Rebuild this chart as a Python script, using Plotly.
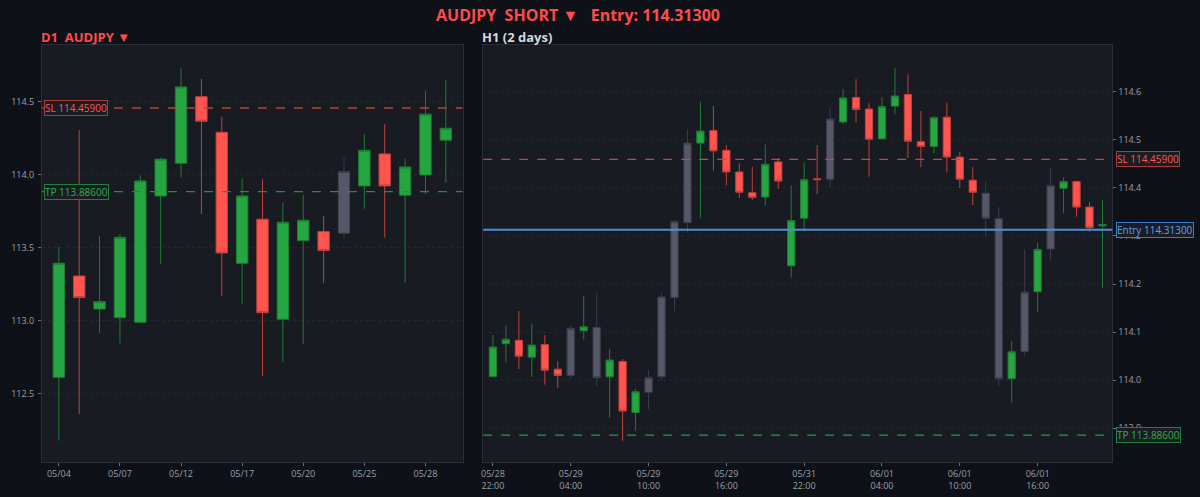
import plotly.graph_objects as go

# ---------------- D1 data ----------------
d1_dates = ["05/04", "05/05", "05/06", "05/07", "05/08", "05/11", "05/12", "05/13", "05/14", "05/17",
            "05/18", "05/19", "05/20", "05/21", "05/22", "05/25", "05/26", "05/27", "05/28", "05/29"]
d1_open = [112.614, 113.308, 113.082, 113.023, 112.991, 113.856, 114.080, 114.536, 114.292, 113.395,
           113.697, 113.012, 113.550, 113.612, 113.601, 113.925, 114.144, 113.861, 114.000, 114.238]
d1_high = [113.509, 114.308, 113.582, 113.594, 113.998, 114.118, 114.733, 114.658, 114.399, 113.977,
           113.971, 113.810, 113.863, 113.721, 114.121, 114.279, 114.347, 114.110, 114.577, 114.651]
d1_low = [112.180, 112.361, 112.918, 112.847, 112.985, 113.392, 113.984, 113.733, 113.169, 113.116,
          112.623, 112.717, 112.842, 113.258, 113.566, 113.769, 113.571, 113.262, 113.870, 113.947]
d1_close = [113.395, 113.160, 113.132, 113.573, 113.959, 114.108, 114.603, 114.368, 113.466, 113.856,
            113.057, 113.676, 113.690, 113.482, 114.023, 114.169, 113.925, 114.055, 114.416, 114.320]
d1_kind = ["up", "dn", "up", "up", "up", "up", "up", "dn", "dn", "up",
           "dn", "up", "up", "dn", "gray", "up", "dn", "up", "up", "up"]
d1_tickvals = ["05/04", "05/07", "05/12", "05/17", "05/20", "05/25", "05/28"]

# ---------------- H1 data ----------------
h1_times = ["05/28 22:00", "05/28 23:00", "05/29 00:00", "05/29 01:00", "05/29 02:00", "05/29 03:00",
            "05/29 04:00", "05/29 05:00", "05/29 06:00", "05/29 07:00", "05/29 08:00", "05/29 09:00",
            "05/29 10:00", "05/29 11:00", "05/29 12:00", "05/29 13:00", "05/29 14:00", "05/29 15:00",
            "05/29 16:00", "05/29 17:00", "05/29 18:00", "05/29 19:00", "05/29 20:00", "05/29 21:00",
            "05/31 22:00", "05/31 23:00", "06/01 00:00", "06/01 01:00", "06/01 02:00", "06/01 03:00",
            "06/01 04:00", "06/01 05:00", "06/01 06:00", "06/01 07:00", "06/01 08:00", "06/01 09:00",
            "06/01 10:00", "06/01 11:00", "06/01 12:00", "06/01 13:00", "06/01 14:00", "06/01 15:00",
            "06/01 16:00", "06/01 17:00", "06/01 18:00", "06/01 19:00", "06/01 20:00", "06/01 21:00"]
h1_open = [114.008, 114.076, 114.083, 114.048, 114.074, 114.023, 114.010, 114.103, 114.110, 114.007,
           114.039, 113.933, 113.975, 114.007, 114.172, 114.328, 114.493, 114.519, 114.478, 114.433,
           114.390, 114.381, 114.454, 114.238, 114.337, 114.419, 114.418, 114.537, 114.588, 114.564,
           114.502, 114.570, 114.594, 114.496, 114.486, 114.547, 114.464, 114.416, 114.389, 114.336,
           114.003, 114.060, 114.184, 114.273, 114.399, 114.413, 114.360, 114.321]
h1_high = [114.094, 114.115, 114.144, 114.118, 114.094, 114.039, 114.113, 114.175, 114.182, 114.065,
           114.044, 113.982, 114.021, 114.181, 114.333, 114.522, 114.579, 114.570, 114.489, 114.451,
           114.444, 114.490, 114.462, 114.405, 114.452, 114.489, 114.568, 114.606, 114.626, 114.576,
           114.588, 114.649, 114.636, 114.560, 114.549, 114.577, 114.475, 114.443, 114.414, 114.360,
           114.082, 114.272, 114.286, 114.442, 114.422, 114.415, 114.370, 114.375]
h1_low = [114.006, 114.037, 114.023, 114.007, 113.991, 113.984, 114.003, 114.085, 113.987, 113.922,
          113.874, 113.895, 113.940, 114.000, 114.144, 114.307, 114.337, 114.436, 114.405, 114.379,
          114.375, 114.363, 114.398, 114.213, 114.310, 114.387, 114.401, 114.532, 114.536, 114.423,
          114.500, 114.553, 114.462, 114.443, 114.472, 114.432, 114.400, 114.364, 114.299, 113.988,
          113.953, 114.050, 114.141, 114.249, 114.348, 114.340, 114.309, 114.191]
h1_close = [114.069, 114.085, 114.050, 114.073, 114.021, 114.010, 114.108, 114.111, 114.005, 114.042,
            113.936, 113.976, 114.005, 114.173, 114.330, 114.493, 114.518, 114.477, 114.433, 114.391,
            114.380, 114.449, 114.414, 114.332, 114.417, 114.417, 114.543, 114.587, 114.563, 114.501,
            114.569, 114.591, 114.497, 114.486, 114.546, 114.464, 114.418, 114.391, 114.337, 114.003,
            114.059, 114.183, 114.272, 114.405, 114.413, 114.360, 114.317, 114.324]
h1_kind = ["up", "up", "dn", "up", "dn", "dn", "gray", "up", "gray", "up",
           "dn", "up", "gray", "gray", "gray", "gray", "up", "dn", "dn", "dn",
           "dn", "up", "dn", "up", "up", "dn", "gray", "up", "dn", "dn",
           "up", "up", "dn", "dn", "up", "dn", "dn", "dn", "gray", "gray",
           "up", "gray", "up", "gray", "up", "dn", "dn", "up"]
h1_tickvals = ["05/28 22:00", "05/29 04:00", "05/29 10:00", "05/29 16:00",
               "05/31 22:00", "06/01 04:00", "06/01 10:00", "06/01 16:00"]
h1_ticktext = ["05/28<br>22:00", "05/29<br>04:00", "05/29<br>10:00", "05/29<br>16:00",
               "05/31<br>22:00", "06/01<br>04:00", "06/01<br>10:00", "06/01<br>16:00"]

# ---------------- levels ----------------
entry_price = 114.313
sl_price = 114.459
tp_price = 113.886

# ---------------- styles ----------------
PAPER = "#0e1117"
PLOT = "#181b21"
STYLE = {
    "up": ("#26a641", "#1e7d35"),
    "dn": ("#ff5450", "#c2403c"),
    "gray": ("#575769", "#3b3e4a"),
}
TICKFONT = dict(family="Open Sans, sans-serif", size=9, color="#9aa0a8")

fig = go.Figure()


def add_candles(cats, o, h, l, c, kinds, xa, ya):
    for kind, (fill, line) in STYLE.items():
        idx = [i for i, k in enumerate(kinds) if k == kind]
        if not idx:
            continue
        fig.add_trace(go.Candlestick(
            x=[cats[i] for i in idx],
            open=[o[i] for i in idx], high=[h[i] for i in idx],
            low=[l[i] for i in idx], close=[c[i] for i in idx],
            increasing=dict(fillcolor=fill, line=dict(color=line, width=1)),
            decreasing=dict(fillcolor=fill, line=dict(color=line, width=1)),
            whiskerwidth=0, showlegend=False, hoverinfo="skip",
            xaxis=xa, yaxis=ya))


add_candles(d1_dates, d1_open, d1_high, d1_low, d1_close, d1_kind, "x", "y")
add_candles(h1_times, h1_open, h1_high, h1_low, h1_close, h1_kind, "x2", "y2")

ydom = [35 / 497, 452 / 497]

axis_common = dict(showline=True, linecolor="#2b2f38", linewidth=1, mirror=True,
                   ticks="outside", ticklen=3, tickcolor="#6b7079", tickfont=TICKFONT,
                   zeroline=False)

fig.update_layout(
    width=1200, height=497,
    margin=dict(l=0, r=0, t=0, b=0),
    paper_bgcolor=PAPER, plot_bgcolor=PLOT,
    boxgap=0.2,
    showlegend=False,
    font=dict(family="Open Sans, sans-serif"),
    xaxis=dict(domain=[40 / 1200, 461.3 / 1200], anchor="y", type="category",
               categoryorder="array", categoryarray=d1_dates,
               tickvals=d1_tickvals, ticktext=d1_tickvals,
               range=[-0.83, 19.82], showgrid=False, rangeslider=dict(visible=False),
               **axis_common),
    yaxis=dict(domain=ydom, anchor="x", side="left", range=[112.034, 114.89],
               dtick=0.5, tickformat=".1f", showgrid=True, gridcolor="#23272e",
               griddash="dot", gridwidth=1, ticklabelstandoff=2, **axis_common),
    xaxis2=dict(domain=[482 / 1200, 1112.3 / 1200], anchor="y2", type="category",
                categoryorder="array", categoryarray=h1_times,
                tickvals=h1_tickvals, ticktext=h1_ticktext,
                range=[-0.75, 47.77], showgrid=False, rangeslider=dict(visible=False),
                **axis_common),
    yaxis2=dict(domain=ydom, anchor="x2", side="right", range=[113.830, 114.697],
                dtick=0.1, tickformat=".1f", showgrid=True, gridcolor="#23272e",
                griddash="dot", gridwidth=1, **axis_common),
)

# ---------------- level lines ----------------
shapes = [
    dict(type="line", xref="x domain", yref="y", x0=0, x1=1, y0=sl_price, y1=sl_price,
         line=dict(color="#b8403d", width=1.5, dash="dash")),
    dict(type="line", xref="x domain", yref="y", x0=0, x1=1, y0=tp_price, y1=tp_price,
         line=dict(color="#2a8a3e", width=1.2, dash="dash")),
    dict(type="line", xref="x2 domain", yref="y2", x0=0, x1=1, y0=sl_price, y1=sl_price,
         line=dict(color="#c04a48", width=1.2, dash="dash")),
    dict(type="line", xref="x2 domain", yref="y2", x0=0, x1=1, y0=entry_price, y1=entry_price,
         line=dict(color="#4a8fdc", width=2)),
    dict(type="line", xref="x2 domain", yref="y2", x0=0, x1=1, y0=tp_price, y1=tp_price,
         line=dict(color="#2a9a42", width=1.2, dash="dash")),
]
fig.update_layout(shapes=shapes)


def level_label(text, x, yref, y, color, border):
    return dict(text=text, x=x, xref="paper", xanchor="left", y=y, yref=yref, yanchor="middle",
                showarrow=False, font=dict(size=10, color=color, family="Open Sans, sans-serif"),
                bgcolor="#1a1d23", bordercolor=border, borderwidth=1, borderpad=0)


annotations = [
    dict(text="<b>AUDJPY  SHORT ▼   Entry: 114.31300</b>", x=576.5 / 1200, xref="paper",
         xanchor="center", y=1 - 15 / 497, yref="paper", yanchor="middle", showarrow=False,
         font=dict(size=16, color="#ff4b4b")),
    dict(text="<b>D1  AUDJPY ▼</b>", x=37 / 1200, xref="paper", xanchor="left",
         y=1 - 37 / 497, yref="paper", yanchor="middle", showarrow=False,
         font=dict(size=13, color="#ff4b4b")),
    dict(text="<b>H1 (2 days)</b>", x=479 / 1200, xref="paper", xanchor="left",
         y=1 - 37 / 497, yref="paper", yanchor="middle", showarrow=False,
         font=dict(size=13, color="#d5d8dc")),
    level_label("SL %.5f" % sl_price, 42 / 1200, "y", sl_price, "#ff5a55", "#a83c3a"),
    level_label("TP %.5f" % tp_price, 42 / 1200, "y", tp_price, "#2fae49", "#22803a"),
    level_label("SL %.5f" % sl_price, 1116 / 1200, "y2", sl_price, "#ff5a55", "#a83c3a"),
    level_label("Entry %.5f" % entry_price, 1116 / 1200, "y2", entry_price, "#5aa2f0", "#3d7cc4"),
    level_label("TP %.5f" % tp_price, 1116 / 1200, "y2", tp_price, "#2fae49", "#22803a"),
]
fig.update_layout(annotations=annotations)

fig.write_html("out.html")
